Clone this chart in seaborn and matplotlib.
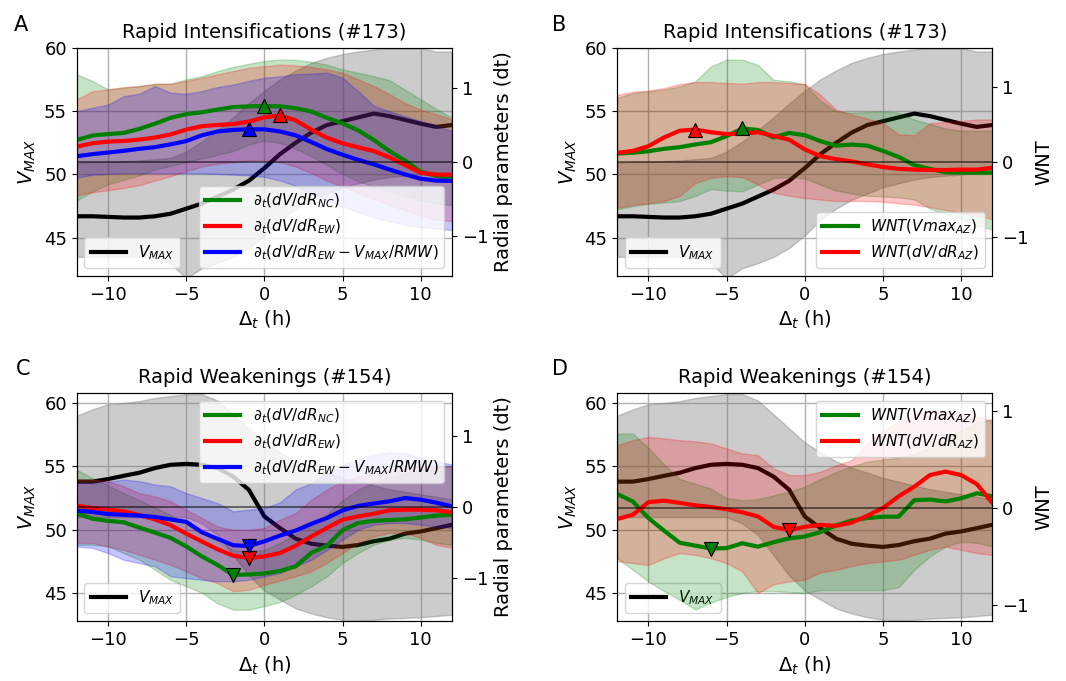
import numpy as np
import matplotlib
matplotlib.use("Agg")
import matplotlib.pyplot as plt
import seaborn as sns

# ---------------- data ----------------
hours = list(range(-12, 13))

# Rapid intensification: VMAX and its band (left axis)
vmax_ri = [46.7, 46.7, 46.65, 46.6, 46.6, 46.7, 46.9, 47.3, 47.7, 48.25, 48.8, 49.5, 50.5,
           51.6, 52.5, 53.3, 53.9, 54.2, 54.5, 54.8, 54.6, 54.3, 54.0, 53.75, 53.9]
vmax_ri_lo = [43.5, 43.5, 43.5, 43.5, 43.5, 43.4, 43.0, 41.8, 42.6, 43.0, 43.5, 44.2, 45.2,
              46.4, 47.3, 48.0, 48.5, 49.0, 49.3, 49.6, 49.8, 49.9, 50.0, 50.1, 50.1]
vmax_ri_hi = [50.9, 51.0, 51.0, 51.05, 51.1, 51.2, 51.3, 51.8, 52.6, 53.5, 54.5, 55.6, 56.6,
              57.5, 58.2, 58.8, 59.2, 59.5, 59.7, 59.85, 59.95, 59.95, 59.95, 59.7, 59.7]

# Rapid weakening: VMAX and its band (left axis)
vmax_rw = [53.8, 53.8, 54.0, 54.26, 54.5, 54.87, 55.13, 55.2, 55.13, 54.87, 54.2, 53.16, 51.05,
           50.13, 49.3, 48.9, 48.75, 48.65, 48.8, 49.1, 49.3, 49.7, 49.87, 50.13, 50.4]
vmax_rw_lo = [51.0, 51.0, 51.0, 51.0, 51.0, 51.0, 51.0, 51.0, 50.5, 49.6, 48.0, 46.4, 45.2,
              44.5, 43.8, 43.4, 43.1, 42.9, 42.85, 42.9, 43.0, 43.05, 43.1, 43.2, 43.3]
vmax_rw_hi = [59.0, 59.5, 59.9, 60.0, 60.15, 60.4, 60.55, 60.7, 60.7, 60.2, 59.1, 58.0, 56.9,
              56.1, 55.4, 54.9, 54.5, 54.1, 53.8, 53.5, 53.2, 53.0, 52.8, 52.6, 52.4]

# Panel A: radial parameters (RI)
a_nc = [0.30, 0.36, 0.38, 0.395, 0.45, 0.52, 0.60, 0.65, 0.675, 0.712, 0.745, 0.755, 0.76,
        0.755, 0.73, 0.685, 0.60, 0.525, 0.43, 0.30, 0.15, 0.02, -0.13, -0.19, -0.205]
a_nc_lo = [-0.52, -0.40, -0.30, -0.24, -0.18, -0.10, -0.05, 0.0, 0.05, 0.10, 0.15, 0.24, 0.29,
           0.26, 0.18, 0.08, -0.04, -0.16, -0.26, -0.33, -0.40, -0.46, -0.52, -0.56, -0.58]
a_nc_hi = [1.19, 1.10, 0.985, 1.007, 1.03, 1.06, 1.065, 1.12, 1.165, 1.233, 1.29, 1.332, 1.37,
           1.39, 1.385, 1.36, 1.32, 1.255, 1.21, 1.165, 1.11, 0.98, 0.85, 0.72, 0.60]
a_ew = [0.21, 0.255, 0.277, 0.287, 0.305, 0.333, 0.375, 0.44, 0.487, 0.503, 0.515, 0.548, 0.607,
        0.632, 0.565, 0.44, 0.33, 0.255, 0.20, 0.15, 0.065, -0.04, -0.145, -0.17, -0.17]
a_ew_lo = [-0.45, -0.41, -0.38, -0.35, -0.31, -0.25, -0.19, -0.12, -0.06, -0.02, 0.0, 0.02, 0.03,
           0.0, -0.06, -0.15, -0.25, -0.33, -0.42, -0.50, -0.58, -0.65, -0.72, -0.78, -0.80]
a_ew_hi = [0.85, 0.96, 0.985, 1.016, 1.03, 1.06, 1.06, 1.10, 1.143, 1.188, 1.233, 1.278, 1.30,
           1.32, 1.31, 1.29, 1.255, 1.21, 1.12, 1.03, 0.92, 0.80, 0.71, 0.646, 0.58]
a_rmw = [0.08, 0.108, 0.13, 0.153, 0.18, 0.203, 0.24, 0.285, 0.363, 0.415, 0.436, 0.445, 0.444,
         0.415, 0.363, 0.272, 0.176, 0.10, 0.03, -0.03, -0.10, -0.167, -0.225, -0.25, -0.255]
a_rmw_lo = [-0.21, -0.17, -0.16, -0.15, -0.15, -0.15, -0.15, -0.15, -0.15, -0.16, -0.17, -0.18, -0.20,
            -0.25, -0.32, -0.42, -0.52, -0.60, -0.68, -0.75, -0.80, -0.85, -0.88, -0.90, -0.92]
a_rmw_hi = [0.69, 0.736, 0.78, 0.894, 0.926, 1.03, 0.94, 0.926, 0.962, 1.016, 1.05, 1.10, 1.143,
            1.16, 1.19, 1.20, 1.21, 1.143, 0.96, 0.76, 0.69, 0.62, 0.556, 0.49, 0.42]

# Panel B: WNT (RI)
b_vm = [0.115, 0.125, 0.146, 0.178, 0.20, 0.236, 0.267, 0.347, 0.45, 0.43, 0.33, 0.39, 0.36,
        0.28, 0.22, 0.235, 0.22, 0.15, 0.07, -0.04, -0.09, -0.135, -0.14, -0.14, -0.14]
b_vm_lo = [-0.63, -0.59, -0.556, -0.54, -0.52, -0.45, -0.36, -0.38, -0.39, -0.30, -0.21, -0.20, -0.22,
           -0.30, -0.38, -0.42, -0.45, -0.46, -0.47, -0.50, -0.62, -0.70, -0.75, -0.85, -0.90]
b_vm_hi = [0.858, 0.924, 0.947, 0.97, 1.013, 1.08, 1.28, 1.37, 1.37, 1.30, 1.10, 1.08, 1.04,
           0.82, 0.68, 0.66, 0.67, 0.68, 0.66, 0.57, 0.51, 0.45, 0.42, 0.42, 0.42]
b_dv = [0.124, 0.15, 0.213, 0.33, 0.42, 0.435, 0.40, 0.375, 0.38, 0.40, 0.35, 0.30, 0.17,
        0.08, 0.04, 0.01, -0.03, -0.065, -0.09, -0.10, -0.105, -0.105, -0.10, -0.10, -0.075]
b_dv_lo = [-0.61, -0.57, -0.55, -0.52, -0.45, -0.28, -0.21, -0.19, -0.20, -0.30, -0.41, -0.45, -0.48,
           -0.50, -0.52, -0.52, -0.52, -0.53, -0.55, -0.57, -0.60, -0.64, -0.68, -0.72, -0.76]
b_dv_hi = [0.90, 0.94, 0.956, 0.99, 1.044, 1.07, 1.07, 1.058, 1.05, 1.07, 1.07, 1.058, 1.044,
           0.90, 0.70, 0.636, 0.58, 0.524, 0.37, 0.36, 0.52, 0.54, 0.55, 0.57, 0.57]

# Panel C: radial parameters (RW)
c_nc = [-0.085, -0.16, -0.19, -0.21, -0.285, -0.355, -0.43, -0.55, -0.69, -0.81, -0.95, -0.945, -0.93,
        -0.895, -0.83, -0.64, -0.54, -0.32, -0.22, -0.19, -0.178, -0.169, -0.143, -0.117, -0.105]
c_nc_lo = [-0.526, -0.526, -0.55, -0.643, -0.737, -0.878, -1.02, -1.11, -1.20, -1.35, -1.44, -1.44, -1.39,
           -1.33, -1.23, -1.11, -0.97, -0.78, -0.64, -0.526, -0.455, -0.43, -0.455, -0.50, -0.53]
c_nc_hi = [0.53, 0.41, 0.31, 0.20, 0.10, 0.0, -0.11, -0.22, -0.35, -0.48, -0.60, -0.62, -0.60,
           -0.50, -0.38, -0.25, -0.10, 0.10, 0.25, 0.35, 0.42, 0.48, 0.52, 0.56, 0.58]
c_ew = [0.023, -0.01, -0.033, -0.056, -0.11, -0.17, -0.25, -0.37, -0.48, -0.59, -0.68, -0.713, -0.69,
        -0.643, -0.54, -0.41, -0.29, -0.174, -0.127, -0.09, -0.042, -0.033, -0.033, -0.042, -0.07]
c_ew_lo = [-0.50, -0.50, -0.55, -0.60, -0.667, -0.737, -0.81, -0.90, -1.00, -1.066, -1.18, -1.16, -1.09,
           -1.03, -0.97, -0.90, -0.78, -0.643, -0.50, -0.41, -0.36, -0.36, -0.43, -0.526, -0.57]
c_ew_hi = [0.39, 0.39, 0.366, 0.296, 0.20, 0.155, 0.085, -0.033, -0.15, -0.27, -0.315, -0.315, -0.29,
           -0.174, -0.08, 0.108, 0.25, 0.366, 0.437, 0.48, 0.53, 0.554, 0.577, 0.577, 0.577]
c_rmw = [-0.045, -0.065, -0.095, -0.105, -0.117, -0.136, -0.17, -0.204, -0.35, -0.443, -0.533, -0.545, -0.478,
         -0.397, -0.327, -0.232, -0.15, -0.042, 0.02, 0.054, 0.085, 0.131, 0.108, 0.065, 0.014]
c_rmw_lo = [-0.55, -0.57, -0.643, -0.737, -0.784, -0.83, -0.97, -0.995, -1.02, -1.04, -1.04, -1.02, -0.97,
            -0.925, -0.83, -0.737, -0.60, -0.455, -0.315, -0.244, -0.22, -0.22, -0.244, -0.27, -0.29]
c_rmw_hi = [0.343, 0.343, 0.36, 0.39, 0.37, 0.32, 0.296, 0.20, 0.131, 0.06, -0.056, -0.033, -0.01,
            0.07, 0.25, 0.34, 0.48, 0.60, 0.69, 0.74, 0.775, 0.765, 0.695, 0.65, 0.60]

# Panel D: WNT (RW)
d_vm = [0.145, 0.067, -0.105, -0.235, -0.36, -0.39, -0.42, -0.415, -0.365, -0.40, -0.355, -0.315, -0.295,
        -0.25, -0.18, -0.13, -0.105, -0.09, -0.09, 0.08, 0.087, 0.067, 0.10, 0.152, 0.12]
d_vm_lo = [-0.52, -0.64, -0.76, -0.86, -0.95, -1.05, -0.98, -0.92, -0.88, -0.86, -0.86, -0.87, -0.88,
           -0.85, -0.85, -0.85, -0.85, -0.85, -0.82, -0.64, -0.50, -0.40, -0.35, -0.36, -0.40]
d_vm_hi = [0.77, 0.77, 0.62, 0.45, 0.30, 0.25, 0.20, 0.10, 0.08, 0.09, 0.13, 0.17, 0.22,
           0.30, 0.37, 0.43, 0.48, 0.50, 0.52, 0.56, 0.62, 0.72, 0.80, 0.88, 0.92]
d_dv = [-0.115, -0.07, 0.06, 0.075, 0.053, 0.027, 0.01, -0.014, -0.045, -0.088, -0.195, -0.23, -0.195,
        -0.175, -0.185, -0.152, -0.08, 0.0, 0.12, 0.22, 0.34, 0.376, 0.34, 0.247, 0.05]
d_dv_lo = [-0.55, -0.57, -0.59, -0.52, -0.467, -0.485, -0.52, -0.57, -0.656, -0.88, -0.79, -0.76, -0.742,
           -0.667, -0.64, -0.60, -0.57, -0.553, -0.536, -0.485, -0.433, -0.40, -0.433, -0.467, -0.485]
d_dv_hi = [0.65, 0.70, 0.735, 0.72, 0.70, 0.69, 0.667, 0.615, 0.564, 0.546, 0.409, 0.34, 0.34,
           0.375, 0.44, 0.495, 0.667, 0.80, 0.89, 0.96, 1.01, 1.01, 0.976, 0.94, 0.90]

lab_nc = r'$\partial_t(dV/dR_{NC})$'
lab_ew = r'$\partial_t(dV/dR_{EW})$'
lab_rmw = r'$\partial_t(dV/dR_{EW}-V_{MAX}/RMW)$'
lab_wvm = r'$WNT(Vmax_{AZ})$'
lab_wdv = r'$WNT(dV/dR_{AZ})$'
lab_vmax = r'$V_{MAX}$'

panels = [
    dict(letter='A', title='Rapid Intensifications (#173)', vm=(vmax_ri, vmax_ri_lo, vmax_ri_hi),
         series=[(lab_nc, 'green', a_nc, a_nc_lo, a_nc_hi), (lab_ew, 'red', a_ew, a_ew_lo, a_ew_hi),
                 (lab_rmw, 'blue', a_rmw, a_rmw_lo, a_rmw_hi)],
         ylim=(42, 60), rlim=(-1.54, 1.55), rlabel='Radial parameters (dt)', loc='lower right', mode='max'),
    dict(letter='B', title='Rapid Intensifications (#173)', vm=(vmax_ri, vmax_ri_lo, vmax_ri_hi),
         series=[(lab_wvm, 'green', b_vm, b_vm_lo, b_vm_hi), (lab_wdv, 'red', b_dv, b_dv_lo, b_dv_hi)],
         ylim=(42, 60), rlim=(-1.52, 1.53), rlabel='WNT', loc='lower right', mode='max'),
    dict(letter='C', title='Rapid Weakenings (#154)', vm=(vmax_rw, vmax_rw_lo, vmax_rw_hi),
         series=[(lab_nc, 'green', c_nc, c_nc_lo, c_nc_hi), (lab_ew, 'red', c_ew, c_ew_lo, c_ew_hi),
                 (lab_rmw, 'blue', c_rmw, c_rmw_lo, c_rmw_hi)],
         ylim=(42.8, 60.8), rlim=(-1.60, 1.61), rlabel='Radial parameters (dt)', loc='upper right', mode='min'),
    dict(letter='D', title='Rapid Weakenings (#154)', vm=(vmax_rw, vmax_rw_lo, vmax_rw_hi),
         series=[(lab_wvm, 'green', d_vm, d_vm_lo, d_vm_hi), (lab_wdv, 'red', d_dv, d_dv_lo, d_dv_hi)],
         ylim=(42.8, 60.8), rlim=(-1.17, 1.19), rlabel='WNT', loc='upper right', mode='min'),
]

# ---------------- plotting ----------------
plt.rcParams['font.family'] = ['DejaVu Sans']
plt.rcParams['font.size'] = 13
plt.rcParams['axes.labelsize'] = 14
plt.rcParams['mathtext.fontset'] = 'dejavusans'

fig, axes = plt.subplots(2, 2, figsize=(10.66, 6.81), dpi=100)
fig.subplots_adjust(left=0.072, right=0.931, top=0.930, bottom=0.088, wspace=0.44, hspace=0.513)

letter_pos = {'A': (0.013, 0.978), 'B': (0.518, 0.978), 'C': (0.015, 0.473), 'D': (0.518, 0.473)}
x = np.array(hours)

for ax, p in zip(axes.flat, panels):
    vm, vlo, vhi = p['vm']
    ax.fill_between(x, vlo, vhi, color='gray', alpha=0.4, linewidth=1)
    sns.lineplot(x=x, y=vm, ax=ax, color='black', linewidth=3, errorbar=None,
                 legend=False, label=lab_vmax)
    ax.set_xlim(-12, 12)
    ax.set_ylim(*p['ylim'])
    ax.set_xticks([-10, -5, 0, 5, 10])
    ax.set_yticks([45, 50, 55, 60])
    ax.grid(True, color='#b0b0b0', linewidth=1)
    ax.set_axisbelow(True)
    ax.set_xlabel(r'$\Delta_t$ (h)')
    ax.set_ylabel(r'$V_{MAX}$')
    ax.set_title(p['title'], fontsize=14, pad=7)
    ax.legend(handles=[ax.lines[-1]], loc='lower left', fontsize=11, handlelength=2.3)

    ax2 = ax.twinx()
    handles = []
    for lab, col, mean, lo, hi in p['series']:
        ax2.fill_between(x, lo, hi, color=col, alpha=0.22, linewidth=1)
    for lab, col, mean, lo, hi in p['series']:
        sns.lineplot(x=x, y=mean, ax=ax2, color=col, linewidth=3, errorbar=None,
                     legend=False, label=lab)
        handles.append(ax2.lines[-1])
    for lab, col, mean, lo, hi in p['series']:
        arr = np.array(mean)
        i = int(np.argmax(arr)) if p['mode'] == 'max' else int(np.argmin(arr))
        mk = '^' if p['mode'] == 'max' else 'v'
        ax2.plot([x[i]], [arr[i]], marker=mk, markersize=10, color=col,
                 markeredgecolor='black', markeredgewidth=0.8, linestyle='none', zorder=5)
    ax2.axhline(0, color='black', linewidth=1.2, alpha=0.6)
    ax2.set_ylim(*p['rlim'])
    ax2.set_yticks([-1, 0, 1])
    ax2.set_ylabel(p['rlabel'])
    ax2.legend(handles=handles, loc=p['loc'], fontsize=11, handlelength=2.3)
    lx, ly = letter_pos[p['letter']]
    fig.text(lx, ly, p['letter'], fontsize=15, ha='left', va='top')

fig.savefig('out.png', dpi=100)
